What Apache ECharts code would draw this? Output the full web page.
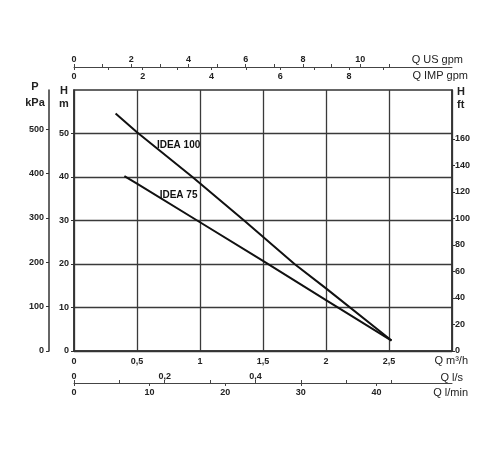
<!DOCTYPE html>
<html>
<head>
<meta charset="utf-8">
<script src="https://cdn.jsdelivr.net/npm/echarts@6/dist/echarts.min.js"></script>
<style>
  html, body { margin: 0; padding: 0; background: #fff; }
  #chart { width: 500px; height: 450px; }
</style>
</head>
<body>
<div id="chart"></div>
<script>
    // pump curves (Q in m3/h, H in m)
    var idea100Q = [0.33, 0.5, 0.94, 1.35, 1.75, 2.0, 2.52];
    var idea100H = [54.6, 50.3, 40, 30, 20, 14.4, 2.4];
    var idea75Q = [0.4, 0.5, 1.0, 1.5, 2.0, 2.52];
    var idea75H = [40.2, 38.5, 29.6, 20.7, 11.7, 2.4];

    // where the curve names sit
    var idea100Label = [0.83, 47.4];
    var idea75Label = [0.83, 35.9];

    // tick values of each scale
    var qM3hLabels = [0, 0.5, 1, 1.5, 2, 2.5];
    var hMLabels = [0, 10, 20, 30, 40, 50];
    var pKpaLabels = [0, 100, 200, 300, 400, 500];
    var hFtLabels = [0, 20, 40, 60, 80, 100, 120, 140, 160];
    var usGpmTicks = [0, 1, 2, 3, 4, 5, 6, 7, 8, 9, 10, 11];
    var usGpmLabels = [0, 2, 4, 6, 8, 10];
    var impGpmTicks = [0, 1, 2, 3, 4, 5, 6, 7, 8, 9];
    var impGpmLabels = [0, 2, 4, 6, 8];
    var lsTicks = [0, 0.1, 0.2, 0.3, 0.4, 0.5, 0.6, 0.7];
    var lsLabels = [0, 0.2, 0.4];
    var lminLabels = [0, 10, 20, 30, 40];

    // scale ranges (same pixel span as 0..3 m3/h and 0..60 m)
    var qMax = 3;
    var hMax = 60;

    function pairs(xs, ys) {
        var out = [];
        for (var i = 0; i < xs.length; i++) {
            out.push([xs[i], ys[i]]);
        }
        return out;
    }

    function comma(v) {
        return String(v).replace('.', ',');
    }

    var ink = '#222';
    var font = 'Liberation Sans, Arial, sans-serif';
    var curveFont = "'Liberation Sans Narrow', 'Liberation Sans', sans-serif";
    var lbl = {color: ink, fontSize: 9, fontWeight: 'bold', fontFamily: font};
    var nameStyle = {color: ink, fontSize: 11, fontFamily: font};

    function extra(opts) {
        var o = {};
        for (var k in lbl) o[k] = lbl[k];
        for (var j in opts) o[j] = opts[j];
        return o;
    }
    function nameExtra(opts) {
        var o = {};
        for (var k in nameStyle) o[k] = nameStyle[k];
        for (var j in opts) o[j] = opts[j];
        return o;
    }
    function line(color, width, show) {
        return {show: show, onZero: false, lineStyle: {color: color, width: width}};
    }
    function curveLabel() {
        return {show: true, position: 'inside', formatter: '{b}', color: '#111',
            fontSize: 10, fontWeight: 'bold', fontFamily: curveFont};
    }

    var chart = echarts.init(document.getElementById('chart'));

    var option = {
        animation: false,
        grid: {
            left: 74, right: 48, top: 90, bottom: 99,
            outerBoundsMode: 'none',
            show: true, borderColor: '#333', borderWidth: 1.5
        },
        xAxis: [
            { // Q m3/h
                type: 'value', position: 'bottom', min: 0, max: qMax, interval: 0.5,
                name: 'Q m³/h', nameLocation: 'end', nameGap: 16, nameMoveOverlap: false,
                nameTextStyle: nameExtra({align: 'right', verticalAlign: 'top', padding: [4, 0, 0, 0]}),
                axisLine: line('#333', 1.5, true),
                axisTick: {show: false},
                axisLabel: extra({customValues: qM3hLabels, margin: 6, formatter: comma}),
                splitLine: {show: true, lineStyle: {color: '#3a3a3a', width: 1.3}}
            },
            { // Q US gpm
                type: 'value', position: 'top', offset: 23, min: 0, max: qMax * 4.40287,
                name: 'Q US gpm', nameLocation: 'end', nameGap: 11, nameMoveOverlap: false,
                nameTextStyle: nameExtra({align: 'right', verticalAlign: 'bottom', padding: [0, 0, 2, 0]}),
                axisLine: line('#444', 1, true),
                axisTick: {show: true, customValues: usGpmTicks, length: 3, lineStyle: {color: '#444'}},
                axisLabel: extra({customValues: usGpmLabels, margin: 3}),
                splitLine: {show: false}
            },
            { // Q IMP gpm
                type: 'value', position: 'top', offset: 23, min: 0, max: qMax * 3.66615,
                name: 'Q IMP gpm', nameLocation: 'end', nameGap: 16, nameMoveOverlap: false,
                nameTextStyle: nameExtra({align: 'right', verticalAlign: 'top', padding: [3, 0, 0, 0]}),
                axisLine: line('#444', 1, false),
                axisTick: {show: true, inside: true, customValues: impGpmTicks, length: 3, lineStyle: {color: '#444'}},
                axisLabel: extra({inside: true, customValues: impGpmLabels, margin: 5}),
                splitLine: {show: false}
            },
            { // Q l/s
                type: 'value', position: 'bottom', offset: 32, min: 0, max: qMax / 3.6,
                name: 'Q l/s', nameLocation: 'end', nameGap: 11, nameMoveOverlap: false,
                nameTextStyle: nameExtra({align: 'right', verticalAlign: 'bottom', padding: [0, 0, 0, 0]}),
                axisLine: line('#444', 1, false),
                axisTick: {show: true, inside: true, customValues: lsTicks, length: 3, lineStyle: {color: '#444'}},
                axisLabel: extra({inside: true, customValues: lsLabels, margin: 2, formatter: comma}),
                splitLine: {show: false}
            },
            { // Q l/min
                type: 'value', position: 'bottom', offset: 32, min: 0, max: qMax * 1000 / 60,
                name: 'Q l/min', nameLocation: 'end', nameGap: 16, nameMoveOverlap: false,
                nameTextStyle: nameExtra({align: 'right', verticalAlign: 'top', padding: [4, 0, 0, 0]}),
                axisLine: line('#444', 1, true),
                axisTick: {show: true, customValues: lminLabels, length: 3, lineStyle: {color: '#444'}},
                axisLabel: extra({customValues: lminLabels, margin: 5}),
                splitLine: {show: false}
            }
        ],
        yAxis: [
            { // H m
                type: 'value', position: 'left', min: 0, max: hMax, interval: 10,
                name: 'H\nm', nameLocation: 'end', nameGap: 6, nameMoveOverlap: false,
                nameTextStyle: nameExtra({fontWeight: 'bold', align: 'center', verticalAlign: 'top', lineHeight: 13, padding: [0, 20, 0, 0]}),
                axisLine: line('#333', 1.5, true),
                axisTick: {show: true, customValues: hMLabels, length: 3, lineStyle: {color: '#333'}},
                axisLabel: extra({customValues: hMLabels, margin: 5}),
                splitLine: {show: true, lineStyle: {color: '#3a3a3a', width: 1.3}}
            },
            { // P kPa
                type: 'value', position: 'left', offset: 25, min: 0, max: hMax * 9.81,
                name: 'P\nkPa', nameLocation: 'end', nameGap: 11, nameMoveOverlap: false,
                nameTextStyle: nameExtra({fontWeight: 'bold', align: 'center', verticalAlign: 'top', lineHeight: 16, padding: [0, 28, 0, 0]}),
                axisLine: line('#333', 1.5, true),
                axisTick: {show: true, customValues: pKpaLabels, length: 3, lineStyle: {color: '#333'}},
                axisLabel: extra({customValues: pKpaLabels, margin: 5}),
                splitLine: {show: false}
            },
            { // H ft
                type: 'value', position: 'right', min: 0, max: hMax * 3.28084,
                name: 'H\nft', nameLocation: 'end', nameGap: 5, nameMoveOverlap: false,
                nameTextStyle: nameExtra({fontWeight: 'bold', align: 'left', verticalAlign: 'top', lineHeight: 13, padding: [0, 0, 0, 5]}),
                axisLine: line('#333', 1.5, true),
                axisTick: {show: true, customValues: hFtLabels, length: 3, lineStyle: {color: '#333'}},
                axisLabel: extra({customValues: hFtLabels, margin: 3}),
                splitLine: {show: false}
            }
        ],
        series: [
            {
                name: 'IDEA 100',
                type: 'line',
                xAxisIndex: 0,
                yAxisIndex: 0,
                showSymbol: false,
                symbol: 'none',
                lineStyle: {color: '#111', width: 2},
                data: pairs(idea100Q, idea100H),
                markPoint: {
                    symbol: 'circle', symbolSize: 0,
                    label: curveLabel(),
                    data: [{name: 'IDEA 100', coord: idea100Label}]
                }
            },
            {
                name: 'IDEA 75',
                type: 'line',
                xAxisIndex: 0,
                yAxisIndex: 0,
                showSymbol: false,
                symbol: 'none',
                lineStyle: {color: '#111', width: 2},
                data: pairs(idea75Q, idea75H),
                markPoint: {
                    symbol: 'circle', symbolSize: 0,
                    label: curveLabel(),
                    data: [{name: 'IDEA 75', coord: idea75Label}]
                }
            }
        ]
    };

    chart.setOption(option);
</script>
</body>
</html>
